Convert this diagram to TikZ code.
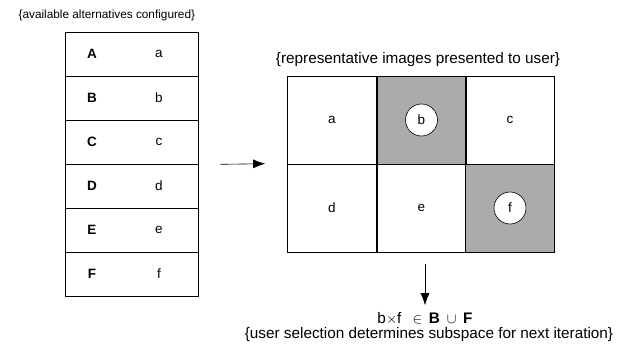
\documentclass[tikz,border=0pt]{standalone}
\usepackage{fontspec}
\setmainfont{Liberation Sans}
\usetikzlibrary{arrows.meta,positioning}

\tikzset{
  rowbox/.style={draw,minimum width=133pt,minimum height=44pt,inner sep=0pt},
  cellbox/.style={draw,minimum width=89pt,minimum height=88pt,inner sep=0pt,font=\fontsize{13.5}{16}\selectfont},
  picked/.style={cellbox,fill=black!33},
  ring/.style={draw,circle,fill=white,minimum size=32pt,inner sep=0pt,font=\fontsize{13.5}{16}\selectfont},
  bigarrow/.style={-{Latex[length=12pt,width=9pt]},semithick},
  bigtext/.style={font=\fontsize{15.3}{18}\selectfont}
}

\begin{document}
\begin{tikzpicture}[x=1pt,y=-1pt,font=\fontsize{11.8}{14}\selectfont,semithick]
    \useasboundingbox (0,0) rectangle (630,348);

    % configured alternatives
    \node[anchor=west] (avail) at (15,15) {\{available alternatives configured\}};
    \foreach \U/\l [count=\i from 0] in {A/a,B/b,C/c,D/d,E/e,F/f} {
      \node[rowbox] (row\U) at (131.5,54+44*\i) {};
      \node[font=\fontsize{13.5}{16}\selectfont\bfseries] (key\U) at ([xshift=-39.5pt]row\U.center) {\U};
      \node[font=\fontsize{13.5}{16}\selectfont] (val\U) at ([xshift=27.5pt]row\U.center) {\l};
    }

    % images shown to the user
    \node[bigtext] (shown) at (418,60) {\{representative images presented to user\}};
    \node[cellbox] (cellA) at (332,120) {a};
    \node[picked] (cellB) at (421.5,120) {};
    \node[cellbox] (cellC) at (510,120) {c};
    \node[cellbox] (cellD) at (332,208) {d};
    \node[cellbox] (cellE) at (421.5,208) {e};
    \node[picked] (cellF) at (510,208) {};
    \node[ring] (selB) at (cellB) {b};
    \node[ring] (selF) at (cellF) {f};

    \draw[bigarrow] ([xshift=22pt]rowC.south east) -- ([xshift=-22pt]cellD.north west);

    % selection
    \node[bigtext] (sel) at (425,319) {b$\times$f \ \,$\in$ \,\textbf{B} \,$\cup$ \,\textbf{F}};
    \node[bigtext] (next) at (429,335) {\{user selection determines subspace for next iteration\}};
    \draw[bigarrow] ([yshift=-12pt]cellE.south -| sel.north) -- ([yshift=4pt]sel.north);
  \end{tikzpicture}
\end{document}
